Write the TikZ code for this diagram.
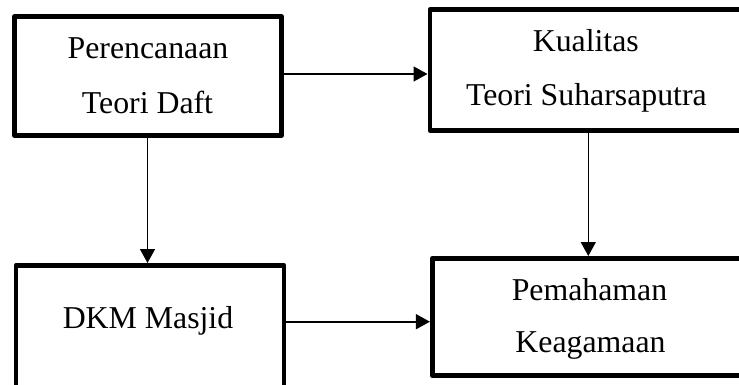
\documentclass[tikz,border=0pt]{standalone}
\usepackage{fontspec}
\setmainfont{Liberation Serif}
\usetikzlibrary{arrows.meta}
\begin{document}
\begin{tikzpicture}[x=1pt,y=-1pt,
  box/.style={draw=black,line width=4.6pt,line join=round,fill=white,inner sep=0pt},
  lbl/.style={anchor=base,inner sep=0pt,font=\fontsize{31.8}{36}\selectfont},
  arr/.style={draw=black,line width=1.6pt,-{Triangle[length=14pt,width=15pt]}}]
\useasboundingbox (0,0) rectangle (739,385);
\begin{scope}
\clip (0,0) rectangle (739,385);
\node[box,minimum width=267pt,minimum height=119pt] (b1) at (148,76) {};
\node[box,minimum width=311pt,minimum height=120.6pt] (b2) at (585.3,70) {};
\node[box,minimum width=268pt,minimum height=125pt] (b3) at (150,327.8) {};
\node[box,minimum width=309pt,minimum height=117.4pt] (b4) at (586.7,317) {};
\end{scope}
\node[lbl] (t1a) at (148,58.3) {Perencanaan};
\node[lbl] (t1b) at (147.5,113.3) {Teori Daft};
\node[lbl] (t2a) at (585.8,51.7) {Kualitas};
\node[lbl] (t2b) at (586.4,106) {Teori Suharsaputra};
\node[lbl] (t3) at (148,328.3) {DKM Masjid};
\node[lbl] (t4a) at (589.5,300) {Pemahaman};
\node[lbl] (t4b) at (590.5,352.7) {Keagamaan};
\draw[arr] (b1.east |- 0,74) -- (b2.west |- 0,74);
\draw[arr] (b3.east |- 0,321.7) -- (b4.west |- 0,321.7);
\draw[arr] (b1.south -| 147.5,0) -- (b3.north -| 147.5,0);
\draw[arr] (b2.south -| 588.3,0) -- (b4.north -| 588.3,0);
\end{tikzpicture}
\end{document}
